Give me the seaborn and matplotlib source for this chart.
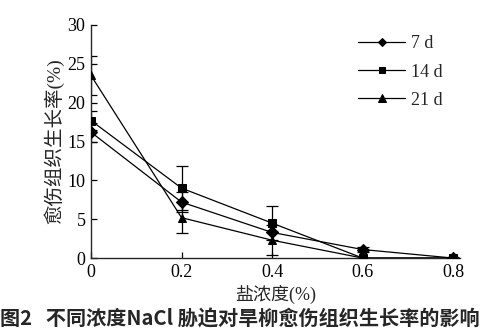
import numpy as np
import pandas as pd
import seaborn as sns
import matplotlib
matplotlib.use("Agg")
import matplotlib.pyplot as plt

# Salt concentration (%) and callus growth rate (%) after 7, 14 and 21 days
conc = [0, 0.2, 0.4, 0.6, 0.8]
series_names = ["7 d", "14 d", "21 d"]
rate_7d = [16.2, 7.2, 3.3, 1.1, 0.0]
rate_14d = [17.7, 9.0, 4.5, 0.0, 0.0]
rate_21d = [23.5, 5.2, 2.3, 0.0, 0.0]
err_7d = [1.2, 1.3, 0.0, 0.3, 0.0]
err_14d = [1.2, 2.8, 2.2, 0.0, 0.0]
err_21d = [2.5, 2.0, 1.9, 0.0, 0.0]
y_ticks = [0, 5, 10, 15, 20, 25, 30]
x_ticks = [0, 0.2, 0.4, 0.6, 0.8]
x_ticklabels = ["0", "0.2", "0.4", "0.6", "0.8"]

sns.set_theme(style="ticks")
plt.rcParams["font.family"] = ["Liberation Serif", "Noto Sans CJK SC"]
plt.rcParams["axes.linewidth"] = 1.0

rates = [rate_7d, rate_14d, rate_21d]
errs = [err_7d, err_14d, err_21d]
df = pd.DataFrame({
    "conc": np.tile(conc, 3),
    "rate": np.concatenate(rates),
    "err": np.concatenate(errs),
    "series": np.repeat(series_names, len(conc)),
})

fig = plt.figure(figsize=(5.0, 3.33), dpi=100)
ax = fig.add_axes([0.182, 0.225, 0.738, 0.70])

markers = {"7 d": "D", "14 d": "s", "21 d": "^"}
sizes = {"7 d": 5, "14 d": 6.5, "21 d": 7}
for name in series_names:
    sub = df[df["series"] == name]
    ax.errorbar(sub["conc"], sub["rate"], yerr=sub["err"], fmt="none",
                ecolor="black", elinewidth=0.9, capsize=4, capthick=0.9, zorder=2)

sns.lineplot(data=df, x="conc", y="rate", hue="series", style="series",
             markers=markers, dashes=False, palette=["black"] * 3,
             linewidth=0.9, markersize=6, markeredgecolor="black",
             ax=ax, legend=True, zorder=3)
for line, name in zip(ax.lines[-3:], series_names):
    line.set_markersize(sizes[name])

ax.set_xlim(0, 0.815)
ax.set_ylim(0, 30)
ax.set_xticks(x_ticks)
ax.set_xticklabels(x_ticklabels)
ax.set_yticks(y_ticks)
ax.tick_params(direction="in", length=4, width=0.9, labelsize=13, colors="black",
               pad=4)
sns.despine(ax=ax)

ax.set_xlabel("盐浓度(%)", fontsize=13, labelpad=3)
ax.set_ylabel("愈伤组织生长率(%)", fontsize=14, labelpad=2)

leg = ax.legend(loc="upper left", bbox_to_anchor=(0.68, 1.025), frameon=False,
                fontsize=13, handlelength=2.6, labelspacing=0.62,
                handletextpad=0.3, markerscale=0.75)
for h in leg.legend_handles:
    h.set_color("black")

fig.text(0.0, 0.045, "图2   不同浓度NaCl 胁迫对旱柳愈伤组织生长率的影响",
         fontsize=14.5, fontweight="bold", ha="left", va="center",
         family=["Noto Sans CJK SC", "DejaVu Sans"])

fig.savefig("out.png", dpi=100, facecolor="white")
